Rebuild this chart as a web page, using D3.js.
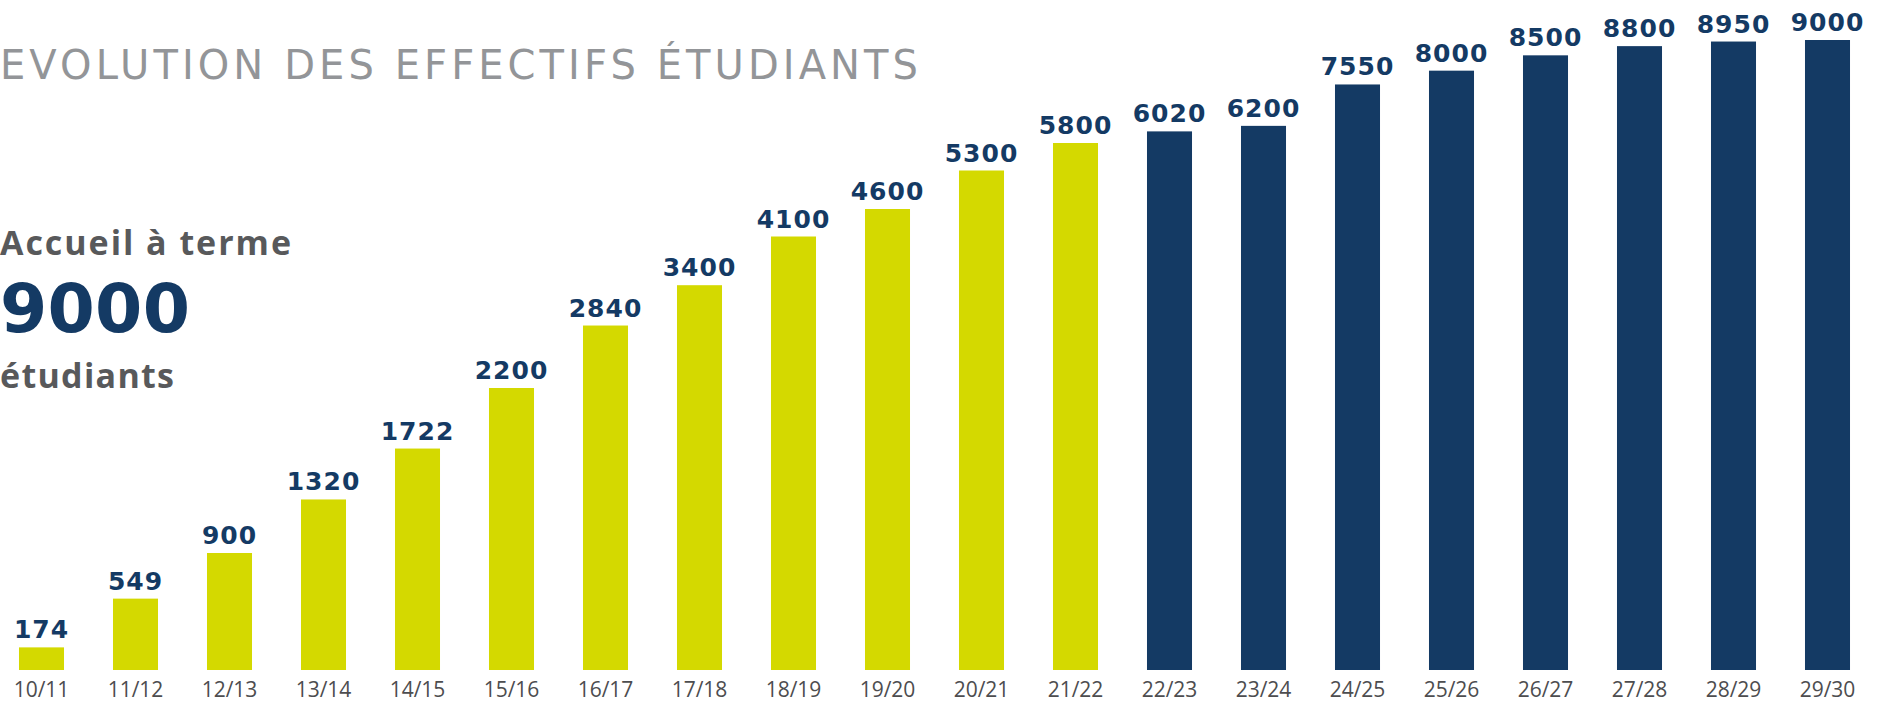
<!DOCTYPE html>
<html>
<head>
<meta charset="utf-8">
<script src="https://cdn.jsdelivr.net/npm/d3@7"></script>
<style>
  html, body { margin: 0; padding: 0; background: #ffffff; }
  svg { display: block; }
</style>
</head>
<body>
<div id="chart"></div>
<script>
// academic years
const years = ["10/11", "11/12", "12/13", "13/14", "14/15", "15/16", "16/17", "17/18", "18/19", "19/20",
               "20/21", "21/22", "22/23", "23/24", "24/25", "25/26", "26/27", "27/28", "28/29", "29/30"];
// number of students
const students = [174, 549, 900, 1320, 1722, 2200, 2840, 3400, 4100, 4600,
                  5300, 5800, 6020, 6200, 7550, 8000, 8500, 8800, 8950, 9000];
// actual figures vs projection
const kind = ["réel", "réel", "réel", "réel", "réel", "réel", "réel", "réel", "réel", "réel",
              "réel", "réel", "prévision", "prévision", "prévision", "prévision", "prévision", "prévision", "prévision", "prévision"];
// domain knots of the value scale (the infographic squeezes the upper values)
const yKnots = [0, 1000, 2500, 4000, 6000, 9000];

const title = "EVOLUTION DES EFFECTIFS ÉTUDIANTS";
const sideText = ["Accueil à terme", "9000", "étudiants"];

const data = years.map((y, i) => ({year: y, value: students[i], kind: kind[i]}));

// -------------------------------------------------------------- //
// --------------------- Initializing the svg ------------------- //
// -------------------------------------------------------------- //
const width = 1886;
const height = 703;
const baseline = 670;

const svg = d3.select("#chart").append("svg")
    .attr("viewBox", [0, 0, width, height])
    .attr("width", width)
    .attr("height", height);

const green = "#d4d900";
const navy = "#143a64";
const numFont = "'DejaVu Sans', sans-serif";
const textFont = "'Open Sans', sans-serif";

// -------------------------------------------------------------- //
// ------------------- Creating scales and axis ----------------- //
// -------------------------------------------------------------- //
const x = d3.scaleBand()
    .domain(years)
    .range([-5.5, -5.5 + 94 * years.length])
    .paddingInner(0.521)
    .paddingOuter(0.2605);

const y = d3.scaleLinear()
    .domain(yKnots)
    .range([baseline, 540, 350, 242, 132, 40]);

const color = d3.scaleOrdinal()
    .domain(["réel", "prévision"])
    .range([green, navy]);

// -------------------------------------------------------------- //
// ------------------------ Title and side ---------------------- //
// -------------------------------------------------------------- //
svg.append("text")
    .attr("x", 0)
    .attr("y", 79)
    .attr("font-family", numFont)
    .attr("font-size", 40)
    .attr("fill", "#939598")
    .attr("textLength", 918)
    .attr("lengthAdjust", "spacing")
    .text(title);

svg.append("text")
    .attr("x", 0).attr("y", 255)
    .attr("font-family", textFont)
    .attr("font-weight", "bold")
    .attr("font-size", 34)
    .attr("fill", "#58595b")
    .attr("textLength", 291)
    .attr("lengthAdjust", "spacing")
    .text(sideText[0]);

svg.append("text")
    .attr("x", 0).attr("y", 332)
    .attr("font-family", numFont)
    .attr("font-weight", "bold")
    .attr("font-size", 68)
    .attr("fill", navy)
    .attr("textLength", 190)
    .attr("lengthAdjust", "spacing")
    .text(sideText[1]);

svg.append("text")
    .attr("x", 0).attr("y", 388)
    .attr("font-family", textFont)
    .attr("font-weight", "bold")
    .attr("font-size", 34)
    .attr("fill", "#58595b")
    .attr("textLength", 174)
    .attr("lengthAdjust", "spacing")
    .text(sideText[2]);

// -------------------------------------------------------------- //
// ------------------------------ Bars -------------------------- //
// -------------------------------------------------------------- //
svg.selectAll(".bar")
    .data(data)
    .join("rect")
    .attr("class", "bar")
    .attr("x", d => x(d.year))
    .attr("y", d => y(d.value))
    .attr("width", x.bandwidth())
    .attr("height", d => baseline - y(d.value))
    .attr("fill", d => color(d.kind));

// value labels
svg.selectAll(".value")
    .data(data)
    .join("text")
    .attr("class", "value")
    .attr("x", d => x(d.year) + x.bandwidth() / 2)
    .attr("y", d => y(d.value) - 9)
    .attr("text-anchor", "middle")
    .attr("font-family", numFont)
    .attr("font-weight", "bold")
    .attr("font-size", 25)
    .attr("letter-spacing", 1)
    .attr("fill", navy)
    .text(d => d.value);

// x axis (labels only)
const xAxis = g => g
    .attr("transform", `translate(0,${baseline})`)
    .call(d3.axisBottom(x).tickSize(0))
    .call(g => g.select(".domain").remove());

svg.append("g")
    .call(xAxis)
    .selectAll("text")
    .attr("dy", 0)
    .attr("y", 27)
    .attr("font-family", textFont)
    .attr("font-size", 21)
    .attr("fill", "#4d4d4f");
</script>
</body>
</html>
